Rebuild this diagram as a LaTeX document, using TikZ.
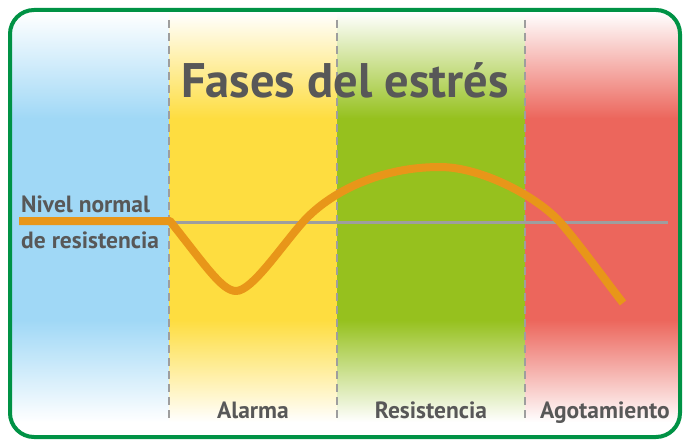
\documentclass[tikz,border=0pt]{standalone}
\usepackage{fontspec}
\setmainfont{PT Sans}
\usetikzlibrary{positioning}

\definecolor{framegreen}{RGB}{0,146,69}
\definecolor{skyblue}{RGB}{160,216,246}
\definecolor{sunyellow}{RGB}{254,221,64}
\definecolor{leafgreen}{RGB}{150,193,30}
\definecolor{coral}{RGB}{236,102,92}
\definecolor{curveorange}{RGB}{232,150,25}
\definecolor{textgray}{RGB}{88,88,88}
\definecolor{linegray}{RGB}{158,158,158}

\tikzset{
  title/.style={font=\bfseries\fontsize{48.5}{52}\selectfont, text=textgray, inner sep=0pt, anchor=base},
  phase/.style={font=\bfseries\fontsize{23.5}{26}\selectfont, text=textgray, inner sep=0pt, anchor=base},
  level/.style={font=\bfseries\fontsize{23.5}{26}\selectfont, text=textgray, inner sep=0pt, anchor=base west},
  divider/.style={linegray, line width=2.5pt, dash pattern=on 8pt off 5pt},
  normline/.style={linegray, line width=3pt},
  stress/.style={curveorange, line width=8pt, line join=round},
  frameline/.style={framegreen, line width=4pt, rounded corners=24pt}
}

\begin{document}
\begin{tikzpicture}[x=1pt,y=-1pt]
        \useasboundingbox (0,0) rectangle (684,441);

        \begin{scope}
        \clip[rounded corners=24pt] (10,10) rectangle (680,437);
        \foreach \xl/\xr/\c in {10/169/skyblue, 169/337/sunyellow, 337/525/leafgreen, 525/680/coral}{
            \fill[top color=white, bottom color=\c] (\xl,12) rectangle (\xr,118.5);
            \fill[\c] (\xl,118) rectangle (\xr,320.5);
            \fill[top color=\c, bottom color=white] (\xl,320) rectangle (\xr,422);
        }
        \end{scope}

        \foreach \x in {169,337,525}
            \draw[divider] (\x,20) -- (\x,418);

        \coordinate (n0) at (19,222);
        \coordinate (n1) at (668,222);
        \draw[normline] (n0) -- (n1);

        \coordinate (c0) at (19,221);
        \coordinate (c1) at (170,221);
        \coordinate (low) at (236,291);
        \coordinate (c2) at (303,222);
        \coordinate (high) at (440,167);
        \coordinate (c3) at (560,222);
        \coordinate (c4) at (623,303);
        \draw[stress] (c0) -- (c1)
            .. controls (205,265) and (222,291) .. (low)
            .. controls (252,291) and (280,248) .. (c2)
            .. controls (330,192) and (380,167) .. (high)
            .. controls (480,167) and (535,195) .. (c3)
            .. controls (580,245) and (605,280) .. (c4);

        \node[title] at (345,98)(fases){Fases del estrés};
        \node[level] at (21,212)(nivel){Nivel normal};
        \node[level] at (21,248)(resist){de resistencia};
        \node[phase] at (253,418)(alarma){Alarma};
        \node[phase] at (431,418)(resistencia){Resistencia};
        \node[phase] at (605,418)(agot){Agotamiento};

        \draw[frameline] (10,10) rectangle (680,437);
    \end{tikzpicture}
\end{document}
